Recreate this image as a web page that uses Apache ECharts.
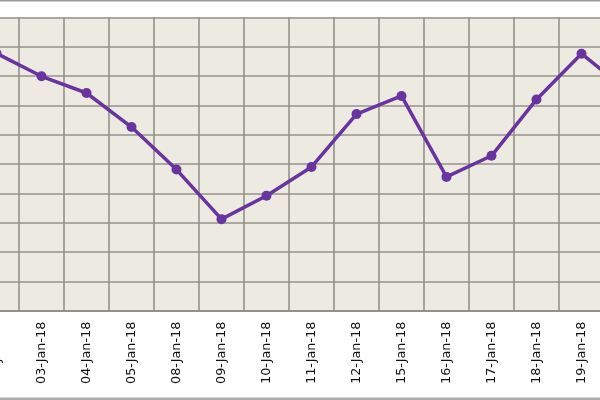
<!DOCTYPE html>
<html>
<head>
<meta charset="utf-8">
<script src="https://cdn.jsdelivr.net/npm/echarts@6/dist/echarts.min.js"></script>
<style>
html,body{margin:0;padding:0;background:#fff;overflow:hidden;}
#wrap{position:relative;width:600px;height:400px;overflow:hidden;}
#c{position:absolute;left:-25.8px;top:0;width:675px;height:400px;}
</style>
</head>
<body>
<div id="wrap"><div id="c"></div></div>
<script>
const categories = ['02-Jan-18','03-Jan-18','04-Jan-18','05-Jan-18','08-Jan-18','09-Jan-18','10-Jan-18','11-Jan-18','12-Jan-18','15-Jan-18','16-Jan-18','17-Jan-18','18-Jan-18','19-Jan-18','22-Jan-18'];
const values = [8.77, 7.99, 7.42, 6.26, 4.81, 3.12, 3.92, 4.90, 6.70, 7.32, 4.56, 5.28, 7.20, 8.76, 7.52];

const chart = echarts.init(document.getElementById('c'));
chart.setOption({
  animation: false,
  grid: {
    left: 0, right: 0, top: 17.3, bottom: 89.3,
    show: true, backgroundColor: '#ECEAE1', borderWidth: 0
  },
  xAxis: {
    type: 'category',
    data: categories,
    boundaryGap: true,
    axisTick: { show: false },
    axisLine: { show: true, lineStyle: { color: '#8a8880', width: 1.6 } },
    splitLine: { show: true, lineStyle: { color: '#94928a', width: 1.6 } },
    axisLabel: {
      rotate: 90, interval: 0, margin: 11,
      fontFamily: 'DejaVu Sans', fontSize: 12.8, color: '#111'
    }
  },
  yAxis: {
    type: 'value', min: 0, max: 10, interval: 1,
    axisLine: { show: false }, axisTick: { show: false },
    axisLabel: { show: false },
    splitLine: { show: true, lineStyle: { color: '#94928a', width: 1.6 } }
  },
  series: [{
    type: 'line',
    data: values,
    symbol: 'circle',
    symbolSize: 10,
    lineStyle: { color: '#6a34a0', width: 3.5 },
    itemStyle: { color: '#6a34a0' }
  }],
  graphic: [
    { type: 'rect', shape: { x: 0, y: 0, width: 675, height: 1.5 }, style: { fill: '#999' } },
    { type: 'rect', shape: { x: 0, y: 397.5, width: 675, height: 2.5 }, style: { fill: '#aaa' } }
  ]
});
</script>
</body>
</html>
